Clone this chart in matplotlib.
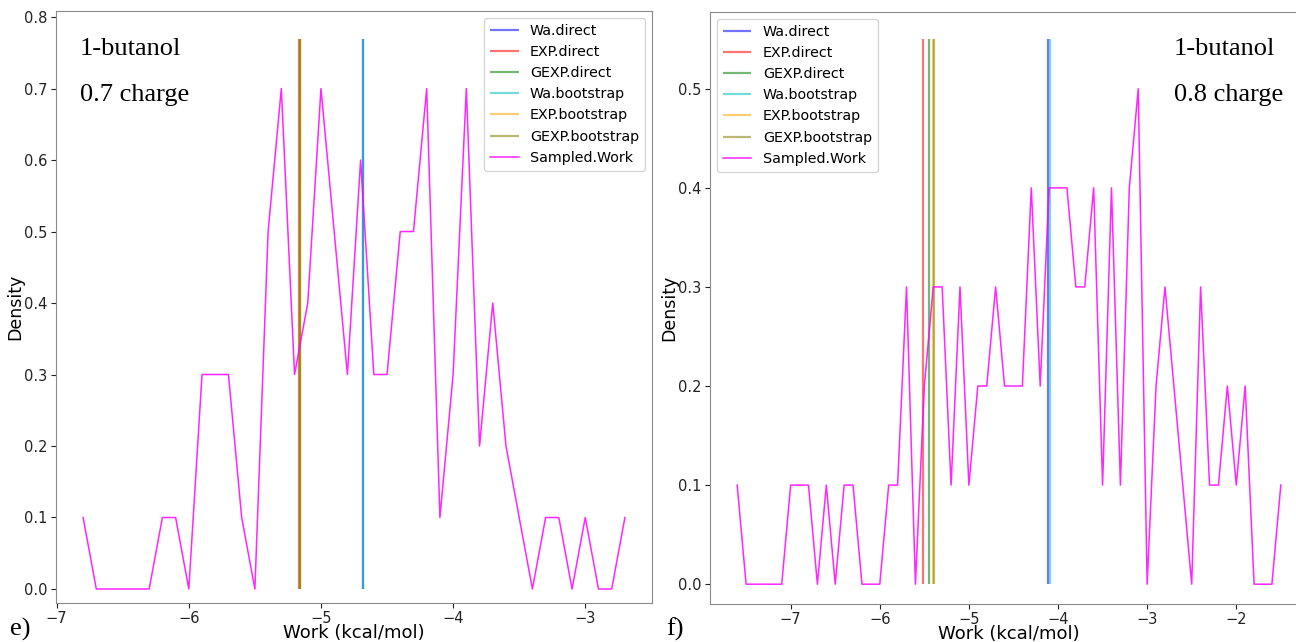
import numpy as np
import matplotlib
matplotlib.use("Agg")
from matplotlib import pyplot as plt

# sampled work histogram (density), bin width 0.1
work_07 = np.round(np.arange(-6.8, -2.65, 0.1), 1)
dens_07 = [0.1, 0, 0, 0, 0, 0, 0.1, 0.1, 0, 0.3,
           0.3, 0.3, 0.1, 0, 0.5, 0.7, 0.3, 0.4, 0.7, 0.5,
           0.3, 0.6, 0.3, 0.3, 0.5, 0.5, 0.7, 0.1, 0.3, 0.7,
           0.2, 0.4, 0.2, 0.1, 0, 0.1, 0.1, 0, 0.1, 0,
           0, 0.1]

work_08 = np.round(np.arange(-7.6, -1.45, 0.1), 1)
dens_08 = [0.1, 0, 0, 0, 0, 0, 0.1, 0.1, 0.1, 0,
           0.1, 0, 0.1, 0.1, 0, 0, 0, 0.1, 0.1, 0.3,
           0, 0.2, 0.3, 0.3, 0.1, 0.3, 0.1, 0.2, 0.2, 0.3,
           0.2, 0.2, 0.2, 0.4, 0.2, 0.4, 0.4, 0.4, 0.3, 0.3,
           0.4, 0.1, 0.4, 0.1, 0.4, 0.5, 0, 0.2, 0.3, 0.2,
           0.1, 0, 0.3, 0.1, 0.1, 0.2, 0.1, 0.2, 0, 0,
           0, 0.1]

estimators = ["Wa.direct", "EXP.direct", "GEXP.direct",
              "Wa.bootstrap", "EXP.bootstrap", "GEXP.bootstrap"]
est_colors = ["b", "r", "g", "c", "orange", "olive"]
est_07 = [-4.68, -5.163, -5.16, -4.68, -5.155, -5.155]
est_08 = [-4.11, -5.52, -5.447, -4.095, -5.405, -5.39]

W, H = 1296, 642
fig = plt.figure(figsize=(W / 100, H / 100), dpi=100)


def panel(rect, work, dens, est, ylim, legend_loc, txt_x, charge, tag, tag_x):
    ax = fig.add_axes(rect)
    top = max(dens) * 1.1
    for name, c, x in zip(estimators, est_colors, est):
        ax.vlines(x, 0, top, colors=c, alpha=0.55, lw=1.6, label=name)
    ax.plot(work, dens, color="magenta", lw=1.1, alpha=0.85, label="Sampled.Work")
    ax.set_ylim(*ylim)
    ax.set_xlabel("Work (kcal/mol)", fontsize=13, labelpad=-1.5)
    ax.set_ylabel("Density", fontsize=12.5, labelpad=0)
    ax.tick_params(labelsize=10.5, colors="#222222", length=3.5, pad=2.5)
    for s in ax.spines.values():
        s.set_color("#8a8a8a")
    ax.legend(loc=legend_loc, fontsize=10.3)
    fig.text(txt_x / W, 1 - 55 / H, "1-butanol", family="Liberation Serif",
             fontsize=19, va="baseline")
    fig.text(txt_x / W, 1 - 101 / H, charge, family="Liberation Serif",
             fontsize=19, va="baseline")
    fig.text(tag_x / W, 1 - 636 / H, tag, family="Liberation Serif",
             fontsize=19, va="baseline")
    return ax


panel([56 / W, 39 / H, 596 / W, 592 / H], work_07, dens_07, est_07,
      (-0.0196, 0.8085), "upper right", 80, "0.7 charge", "e)", 10)
ax2 = panel([710 / W, 38 / H, 598 / W, 592 / H], work_08, dens_08, est_08,
            (-0.02, 0.5775), "upper left", 1174, "0.8 charge", "f)", 666)

fig.savefig("out.png", dpi=100)
